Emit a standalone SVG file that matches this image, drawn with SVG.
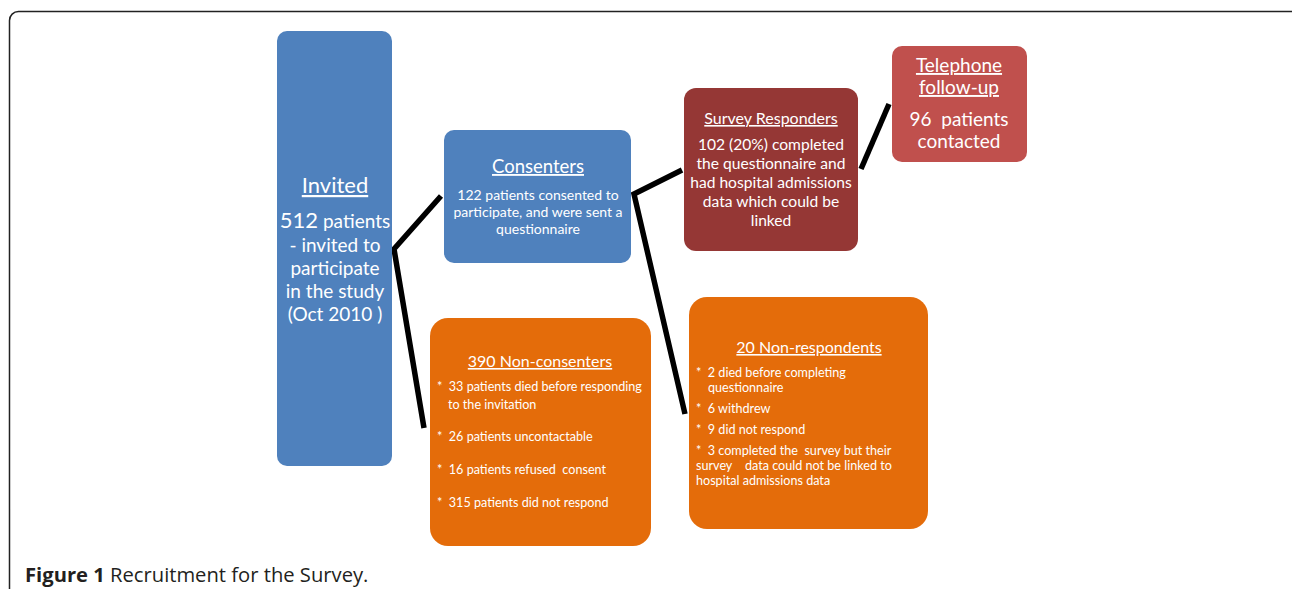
<svg xmlns="http://www.w3.org/2000/svg" width="1292" height="589" viewBox="0 0 1292 589">
<style>
.t{font-family:Lato,"Open Sans","Liberation Sans",sans-serif;fill:#fff}
.c{text-anchor:middle}
.u{text-decoration:underline}
.b12{font-size:12.6px}
.conn{fill:none;stroke:#000;stroke-width:5.5;stroke-linejoin:miter;stroke-linecap:butt}
</style>
<rect width="1292" height="589" fill="#fff"/>
<rect x="9.5" y="11.5" width="1290" height="610" rx="9" fill="none" stroke="#222" stroke-width="1.5"/>
<g id="connectors">
<polyline class="conn" points="441,196 394,249 424,428"/>
<polyline class="conn" points="682,170 634,194 685,414"/>
<polyline class="conn" points="889,104 861,169"/>
</g>
<g id="invited">
<rect x="277" y="31" width="115" height="435" rx="10" fill="#4F81BD"/>
<text class="t c u" x="335" y="193" font-size="22">Invited</text>
<text class="t c" x="335" y="228" font-size="19"><tspan font-size="22">512</tspan> patients</text>
<text class="t c" x="335" y="252" font-size="19">- invited to</text>
<text class="t c" x="335" y="275" font-size="19">participate</text>
<text class="t c" x="335" y="298" font-size="19">in the study</text>
<text class="t c" x="335" y="321" font-size="19">(Oct 2010 )</text>
</g>
<g id="consenters">
<rect x="444" y="130" width="187" height="133" rx="10" fill="#4F81BD"/>
<text class="t c u" x="538" y="173" font-size="18.5">Consenters</text>
<text class="t c" x="538" y="200" font-size="14">122 patients consented to</text>
<text class="t c" x="538" y="217" font-size="14">participate, and were sent a</text>
<text class="t c" x="538" y="234" font-size="14">questionnaire</text>
</g>
<g id="responders">
<rect x="684" y="88" width="174" height="163" rx="12" fill="#953735"/>
<text class="t c u" x="771" y="124" font-size="16">Survey Responders</text>
<text class="t c" x="771" y="150" font-size="15.6">102 (20%) completed</text>
<text class="t c" x="771" y="169" font-size="15.6">the questionnaire and</text>
<text class="t c" x="771" y="188" font-size="15.6">had hospital admissions</text>
<text class="t c" x="771" y="207" font-size="15.6">data which could be</text>
<text class="t c" x="771" y="226" font-size="15.6">linked</text>
</g>
<g id="telephone">
<rect x="892" y="46" width="135" height="116" rx="10" fill="#C0504D"/>
<text class="t c u" x="959" y="72" font-size="19">Telephone</text>
<text class="t c u" x="959" y="94" font-size="19">follow-up</text>
<text class="t c" x="959" y="126" font-size="19" xml:space="preserve">96  patients</text>
<text class="t c" x="959" y="148" font-size="19">contacted</text>
</g>
<g id="nonconsenters">
<rect x="430" y="318" width="221" height="228" rx="18" fill="#E46C0A"/>
<text class="t c u" x="540" y="367" font-size="16">390 Non-consenters</text>
<text class="t b12" x="437" y="391" xml:space="preserve">*  33 patients died before responding</text>
<text class="t b12" x="448" y="409">to the invitation</text>
<text class="t b12" x="437" y="441" xml:space="preserve">*  26 patients uncontactable</text>
<text class="t b12" x="437" y="474" xml:space="preserve">*  16 patients refused  consent</text>
<text class="t b12" x="437" y="507" xml:space="preserve">*  315 patients did not respond</text>
</g>
<g id="nonrespondents">
<rect x="689" y="297" width="239" height="232" rx="18" fill="#E46C0A"/>
<text class="t c u" x="809" y="353" font-size="16">20 Non-respondents</text>
<text class="t b12" x="696" y="377" xml:space="preserve">*  2 died before completing</text>
<text class="t b12" x="708" y="392">questionnaire</text>
<text class="t b12" x="696" y="413" xml:space="preserve">*  6 withdrew</text>
<text class="t b12" x="696" y="434" xml:space="preserve">*  9 did not respond</text>
<text class="t b12" x="696" y="455" xml:space="preserve">*  3 completed the  survey but their</text>
<text class="t b12" x="696" y="470" xml:space="preserve">survey    data could not be linked to</text>
<text class="t b12" x="696" y="485">hospital admissions data</text>
</g>
<text x="25" y="582" font-family="'Open Sans','Liberation Sans',sans-serif" font-size="20.2" fill="#231f20"><tspan font-weight="bold">Figure 1</tspan> Recruitment for the Survey.</text>
</svg>
